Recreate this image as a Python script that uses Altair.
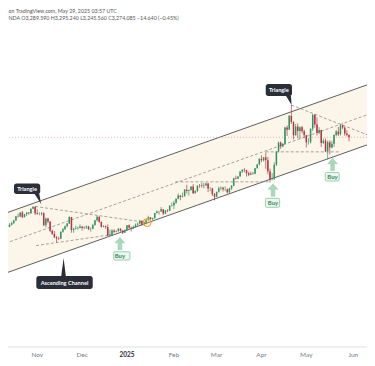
import altair as alt
import pandas as pd

# ---------------- data ----------------
month_days = {
    "2024-10": [14, 15, 16, 17, 18, 21, 22, 23, 24, 25, 28, 29, 30, 31],
    "2024-11": [1, 4, 5, 6, 7, 8, 11, 12, 13, 14, 15, 18, 19, 20, 21, 22, 25, 26, 27, 28, 29],
    "2024-12": [2, 3, 4, 5, 6, 9, 10, 11, 12, 13, 16, 17, 18, 19, 20, 23, 24, 26, 27, 30, 31],
    "2025-01": [2, 3, 6, 7, 8, 9, 10, 13, 14, 15, 16, 17, 20, 21, 22, 23, 24, 27, 28, 29, 30, 31],
    "2025-02": [3, 4, 5, 6, 7, 10, 11, 12, 13, 14, 17, 18, 19, 20, 21, 24, 25, 26, 27, 28],
    "2025-03": [3, 4, 5, 6, 7, 10, 11, 12, 13, 14, 17, 18, 19, 20, 21, 24, 25, 26, 27, 28, 31],
    "2025-04": [1, 2, 3, 4, 7, 8, 9, 10, 11, 14, 15, 16, 17, 21, 22, 23, 24, 25, 28, 29, 30],
    "2025-05": [1, 2, 5, 6, 7, 8, 9, 12, 13, 14, 15, 16, 19, 20, 21, 22, 23, 26, 27, 28, 29],
}
dates = [f"{m}-{d:02d}" for m, ds in month_days.items() for d in ds]

opens = [
    2656, 2648, 2662, 2674, 2692, 2721, 2719, 2748, 2715, 2736, 2747, 2743, 2774, 2788,
    2743, 2736, 2736, 2743, 2659, 2706, 2685, 2619, 2598, 2573, 2565, 2563, 2612, 2631, 2651, 2670, 2716, 2625, 2633, 2638, 2641,
    2650, 2639, 2643, 2650, 2631, 2633, 2660, 2694, 2718, 2681, 2648, 2652, 2646, 2586, 2594, 2622, 2612, 2617, 2634, 2621, 2606,
    2624, 2658, 2640, 2636, 2648, 2662, 2670, 2689, 2662, 2677, 2697, 2714, 2702, 2708, 2744, 2755, 2754, 2770, 2740, 2763, 2760, 2794,
    2798, 2815, 2843, 2866, 2856, 2861, 2908, 2898, 2904, 2929, 2883, 2898, 2935, 2933, 2939, 2936, 2951, 2915, 2916, 2876,
    2858, 2892, 2918, 2920, 2910, 2910, 2889, 2916, 2934, 2988, 2984, 3000, 3035, 3047, 3044, 3023, 3011, 3020, 3019, 3057, 3084,
    3123, 3113, 3134, 3114, 3037, 2982, 2983, 3082, 3175, 3237, 3210, 3229, 3343, 3327, 3424, 3381, 3288, 3349, 3318, 3344, 3317,
    3288, 3239, 3240, 3334, 3431, 3364, 3305, 3325, 3234, 3250, 3177, 3240, 3203, 3229, 3290, 3314, 3295, 3357, 3342, 3300, 3289.59,
]
highs = [
    2666, 2673, 2685, 2696, 2722, 2740, 2749, 2758, 2737, 2748, 2749, 2775, 2790, 2789,
    2770, 2750, 2750, 2749, 2711, 2710, 2686, 2627, 2618, 2583, 2579, 2615, 2639, 2657, 2674, 2721, 2716, 2641, 2656, 2649, 2665,
    2651, 2649, 2657, 2654, 2643, 2669, 2695, 2726, 2721, 2685, 2659, 2656, 2664, 2628, 2632, 2630, 2622, 2639, 2637, 2625, 2630,
    2660, 2665, 2649, 2655, 2671, 2678, 2697, 2691, 2680, 2701, 2725, 2715, 2711, 2745, 2763, 2759, 2786, 2772, 2765, 2770, 2800, 2817,
    2830, 2845, 2882, 2870, 2887, 2912, 2942, 2908, 2932, 2946, 2904, 2937, 2947, 2955, 2954, 2956, 2954, 2926, 2921, 2884,
    2894, 2928, 2930, 2927, 2930, 2915, 2922, 2940, 2990, 3005, 3002, 3038, 3050, 3058, 3047, 3033, 3035, 3031, 3060, 3087, 3128,
    3149, 3136, 3167, 3136, 3055, 3023, 3099, 3176, 3245, 3245, 3232, 3347, 3357, 3430, 3500, 3386, 3367, 3371, 3350, 3353, 3328,
    3290, 3269, 3336, 3437, 3435, 3414, 3345, 3326, 3265, 3266, 3252, 3253, 3250, 3295, 3325, 3346, 3365, 3365, 3350, 3325, 3295.24,
]
lows = [
    2642, 2645, 2657, 2667, 2689, 2712, 2715, 2708, 2713, 2723, 2732, 2739, 2772, 2730,
    2733, 2728, 2726, 2652, 2643, 2672, 2610, 2590, 2572, 2537, 2554, 2562, 2606, 2625, 2644, 2667, 2606, 2605, 2630, 2627, 2637,
    2621, 2631, 2632, 2624, 2613, 2629, 2655, 2685, 2675, 2642, 2645, 2633, 2583, 2583, 2584, 2603, 2609, 2614, 2613, 2597, 2605,
    2621, 2635, 2615, 2633, 2643, 2656, 2664, 2656, 2659, 2668, 2690, 2696, 2693, 2704, 2741, 2733, 2752, 2730, 2738, 2750, 2758, 2790,
    2772, 2809, 2840, 2834, 2853, 2860, 2880, 2865, 2903, 2877, 2880, 2890, 2920, 2920, 2917, 2935, 2890, 2896, 2864, 2832,
    2857, 2886, 2904, 2894, 2897, 2880, 2880, 2905, 2932, 2978, 2982, 2999, 3023, 3029, 2999, 3002, 3009, 3012, 3016, 3055, 3076,
    3100, 3105, 3054, 3015, 2957, 2970, 2975, 3073, 3168, 3193, 3205, 3222, 3283, 3326, 3367, 3260, 3287, 3268, 3260, 3302, 3268,
    3202, 3223, 3230, 3317, 3342, 3286, 3295, 3207, 3228, 3171, 3120, 3154, 3198, 3206, 3282, 3283, 3287, 3331, 3285, 3280, 3245.56,
]
closes = [
    2648, 2662, 2674, 2692, 2721, 2719, 2748, 2715, 2736, 2747, 2743, 2774, 2788, 2743,
    2736, 2736, 2743, 2659, 2706, 2685, 2619, 2598, 2573, 2565, 2563, 2612, 2631, 2651, 2670, 2716, 2625, 2633, 2638, 2641, 2650,
    2639, 2643, 2650, 2631, 2633, 2660, 2694, 2718, 2681, 2648, 2652, 2646, 2586, 2594, 2622, 2612, 2617, 2634, 2621, 2606, 2624,
    2658, 2640, 2636, 2648, 2662, 2670, 2689, 2662, 2677, 2697, 2714, 2702, 2708, 2744, 2755, 2754, 2770, 2740, 2763, 2760, 2794, 2798,
    2815, 2843, 2866, 2856, 2861, 2908, 2898, 2904, 2929, 2883, 2898, 2935, 2933, 2939, 2936, 2951, 2915, 2916, 2876, 2858,
    2892, 2918, 2920, 2910, 2910, 2889, 2916, 2934, 2988, 2984, 3000, 3035, 3047, 3044, 3023, 3011, 3020, 3019, 3057, 3084, 3123,
    3113, 3134, 3114, 3037, 2982, 2983, 3082, 3175, 3237, 3210, 3229, 3343, 3327, 3424, 3381, 3288, 3349, 3318, 3344, 3317, 3288,
    3239, 3240, 3334, 3431, 3364, 3305, 3325, 3234, 3250, 3177, 3240, 3203, 3229, 3290, 3314, 3295, 3357, 3342, 3300, 3289.59, 3274.085,
]
FIRST_IDX = -14  # bar index of the first bar (2024-11-01 is bar 0)

# month labels on the time axis (bar index of first bar of each month)
month_tick_idx = [0, 21, 42, 64, 84, 105, 126, 148]
month_tick_lab = ["Nov", "Dec", "2025", "Feb", "Mar", "Apr", "May", "Jun"]

# ascending channel (bar index, price)
channel_x = [-15.0, 155.8]
channel_upper = [2742, 3648]
channel_lower = [2322, 3228]
channel_mid = [2532, 3438]

# dashed pattern lines: (name, bar index, price)
seg_name = ["tri1_up", "tri1_up", "tri1_lo", "tri1_lo", "h_2957", "h_2957", "h_3170", "h_3170", "tri2_up", "tri2_up"]
seg_x = [-1, 51.5, -0.6, 35.5, 64.7, 108.8, 107, 141.5, 119, 156.5]
seg_p = [2790, 2677, 2516, 2594, 2962, 2962, 3172, 3172, 3500, 3280]

breakout_x = [51.46]
breakout_p = [2677]

# dark callouts
callout_text = ["Triangle", "Triangle", "Ascending Channel"]
callout_x0 = [-10.93, 107.0, -0.46]
callout_x1 = [1.37, 119.3, 25.96]
callout_p0 = [2877, 3563, 2212]
callout_p1 = [2951, 3647, 2303]
# pointer tails: (callout, price, left x, right x)
tail_name = ["t1", "t1", "t2", "t2", "t3", "t3"]
tail_p = [2880, 2807, 3566, 3500, 2300, 2429]
tail_xa = [-1.4, 1.8, 116.4, 119.1, 11.2, 12.3]
tail_xb = [0.9, 1.8, 118.8, 119.1, 13.4, 12.3]

# Buy signals
buy_x = [38.7, 110.4, 138.3]
buy_arrow_p = [2530, 2905, 3084]
buy_box_x0 = [35.8, 106.9, 134.9]
buy_box_x1 = [43.4, 113.5, 141.4]
buy_box_p0 = [2415, 2784, 2968]
buy_box_p1 = [2473, 2847, 3028]
buy_text_p = [2444, 2815, 2998]

header1 = "on TradingView.com, May 29, 2025 03:57 UTC"
header2 = "NDA  O3,289.590  H3,295.240  L3,245.560  C3,274.085  \u221214.640 (\u22120.45%)"

# ---------------- chart ----------------
W, H = 359, 339
GREEN, RED = "#2e9461", "#b83343"
FONT = "Lato"

xsc = alt.Scale(domain=[-11.38, 152.09], nice=False, zero=False)
ysc = alt.Scale(domain=[1806.1, 4179.1], nice=False, zero=False)


def X(f):
    return alt.X(f"{f}:Q", scale=xsc, axis=None)


def Y(f):
    return alt.Y(f"{f}:Q", scale=ysc, axis=None)


bars = pd.DataFrame({"date": dates, "o": opens, "h": highs, "l": lows, "c": closes})
bars["i"] = range(FIRST_IDX, FIRST_IDX + len(bars))
bars["dir"] = ["up" if c >= o else "down" for o, c in zip(bars.o, bars.c)]
col = alt.Color("dir:N", scale=alt.Scale(domain=["up", "down"], range=[GREEN, RED]), legend=None)

ch = pd.DataFrame({"i": channel_x, "up": channel_upper, "lo": channel_lower, "mid": channel_mid})
segs = pd.DataFrame({"seg": seg_name, "i": seg_x, "p": seg_p})
circ = pd.DataFrame({"i": breakout_x, "p": breakout_p})
calls = pd.DataFrame({"t": callout_text, "x0": callout_x0, "x1": callout_x1, "p0": callout_p0, "p1": callout_p1})
calls["tx"] = (calls.x0 + calls.x1) / 2
calls["tp"] = (calls.p0 + calls.p1) / 2
tails = pd.DataFrame({"n": tail_name, "p": tail_p, "xa": tail_xa, "xb": tail_xb})
buys = pd.DataFrame({"i": buy_x, "pa": buy_arrow_p, "x0": buy_box_x0, "x1": buy_box_x1,
                     "p0": buy_box_p0, "p1": buy_box_p1, "pt": buy_text_p})
ticks = pd.DataFrame({"i": month_tick_idx, "lab": month_tick_lab})
one = pd.DataFrame({"a": [0]})
last = pd.DataFrame({"p": [closes[-1]]})

fill = alt.Chart(ch).mark_area(color="#fcf6ea", clip=True).encode(x=X("i"), y=Y("lo"), y2="up")
up_line = alt.Chart(ch).mark_line(color="#5f5f5f", strokeWidth=1, clip=True).encode(x=X("i"), y=Y("up"))
lo_line = alt.Chart(ch).mark_line(color="#5f5f5f", strokeWidth=1, clip=True).encode(x=X("i"), y=Y("lo"))
mid_line = alt.Chart(ch).mark_line(color="#8d8d8d", strokeWidth=0.8, strokeDash=[3, 2], clip=True).encode(
    x=X("i"), y=Y("mid"))
dashed = alt.Chart(segs).mark_line(color="#8d8d8d", strokeWidth=0.8, strokeDash=[3, 2], clip=True).encode(
    x=X("i"), y=Y("p"), detail="seg:N")
price_line = alt.Chart(last).mark_rule(color="#e08a8a", strokeWidth=0.8, strokeDash=[1, 2], opacity=0.8).encode(
    y=Y("p"))

wicks = alt.Chart(bars).mark_rule(strokeWidth=0.7, clip=True).encode(x=X("i"), y=Y("l"), y2="h", color=col)
bodies = alt.Chart(bars).mark_bar(size=1.5, clip=True).encode(x=X("i"), y=Y("o"), y2="c", color=col)

circle = alt.Chart(circ).mark_point(shape="circle", size=64, filled=True, fill="#f6b04a", fillOpacity=0.25,
                                    stroke="#f0a030", strokeWidth=1, opacity=1).encode(x=X("i"), y=Y("p"))

call_box = alt.Chart(calls).mark_rect(color="#2a2e39", cornerRadius=2.5).encode(
    x=X("x0"), x2="x1", y=Y("p0"), y2="p1")
call_tail = alt.Chart(tails).mark_area(color="#2a2e39", orient="horizontal").encode(
    y=Y("p"), x=X("xa"), x2="xb", detail="n:N")
call_txt = alt.Chart(calls).mark_text(color="white", fontSize=5.6, fontWeight="bold", font=FONT).encode(
    x=X("tx"), y=Y("tp"), text="t:N")

ARROW = "M0,-1 L0.78,-0.12 L0.3,-0.12 L0.3,1 L-0.3,1 L-0.3,-0.12 L-0.78,-0.12 Z"
buy_arrow = alt.Chart(buys).mark_point(shape=ARROW, size=150, filled=True, color="#a9d9b8", opacity=1,
                                       stroke="#8cc9a0", strokeWidth=0.5).encode(x=X("i"), y=Y("pa"))
buy_box = alt.Chart(buys).mark_rect(fill="#eaf6ee", stroke="#86c79d", strokeWidth=0.8, cornerRadius=1).encode(
    x=X("x0"), x2="x1", y=Y("p0"), y2="p1")
buy_txt = alt.Chart(buys).mark_text(color="#2f8a57", fontSize=6, fontWeight="bold", font=FONT).encode(
    x=X("i"), y=Y("pt"), text=alt.value("Buy"))

axis_line = alt.Chart(one).mark_rule(color="#dcdfe6", strokeWidth=1).encode(
    x=alt.value(0), x2=alt.value(W), y=alt.value(H))
axis_lab = alt.Chart(ticks).transform_filter(alt.datum.lab != "2025").mark_text(
    fontSize=6.5, font=FONT, baseline="middle", color="#787b86").encode(
    x=X("i"), y=alt.value(H + 7.5), text="lab:N")
axis_lab_year = alt.Chart(ticks).transform_filter(alt.datum.lab == "2025").mark_text(
    fontSize=6.5, font=FONT, baseline="middle", color="#2a2e39", fontWeight="bold").encode(
    x=X("i"), y=alt.value(H + 7.5), text="lab:N")

hdr1 = alt.Chart(one).mark_text(fontSize=5.3, font=FONT, align="left", color="#555555").encode(
    x=alt.value(0.5), y=alt.value(2.8), text=alt.value(header1))
hdr2 = alt.Chart(one).mark_text(fontSize=5.3, font=FONT, align="left", color="#555555").encode(
    x=alt.value(0.5), y=alt.value(9.5), text=alt.value(header2))

chart = alt.layer(
    fill, up_line, lo_line, mid_line, dashed, price_line, wicks, bodies, circle,
    call_tail, call_box, call_txt, buy_arrow, buy_box, buy_txt, axis_line, axis_lab, axis_lab_year,
    hdr1, hdr2,
).properties(
    width=W, height=H,
    padding={"left": 0, "top": 0, "right": 0, "bottom": 11},
    autosize=alt.AutoSizeParams(type="none"),
).configure_view(stroke=None)

chart.save("out.html", embed_options={"renderer": "svg", "actions": False})
